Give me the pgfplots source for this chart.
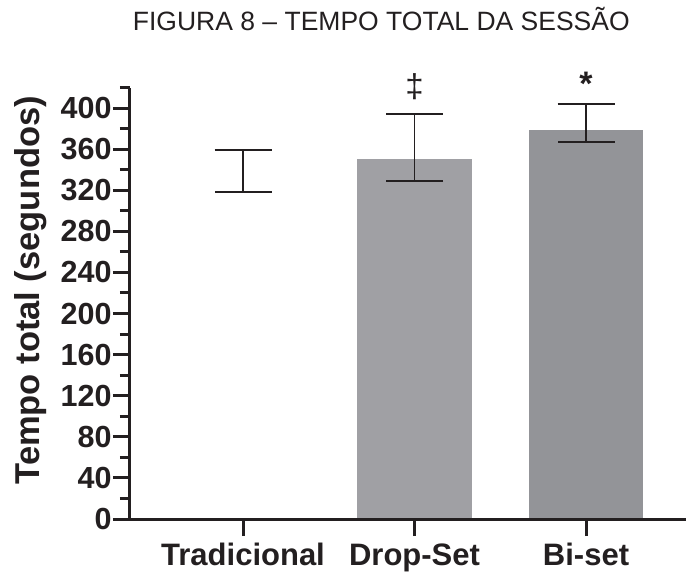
\documentclass[border=0pt]{standalone}
\usepackage{fontspec}
\setmainfont{Liberation Sans}
\usepackage{pgfplots}
\pgfplotsset{compat=1.18}
\definecolor{ink}{HTML}{231F20}
\definecolor{dropc}{HTML}{A0A0A4}
\definecolor{bic}{HTML}{939498}
\begin{document}
\begin{tikzpicture}
\path[use as bounding box] (-130bp,-57bp) rectangle (562bp,519bp);
\begin{axis}[
 at={(0,0)}, anchor=south west,
 scale only axis, width=556bp, height=431.5bp,
 xmin=-0.659, xmax=2.583, ymin=0, ymax=420,
 axis on top,
 axis x line*=bottom, axis y line*=left,
 axis line style={-, line width=3bp, color=ink},
 tick align=outside,
 major tick length=17bp, minor tick length=10bp,
 tick style={line width=3bp, color=ink},
 xtick={0,1,2}, xticklabels={Tradicional,Drop-Set,Bi-set},
 ytick={0,40,...,400}, minor ytick={20,60,...,420},
 /pgf/number format/assume math mode=true,
 yticklabel style={font=\bfseries\fontsize{30.5bp}{30.5bp}\selectfont, text=ink, xshift=2bp},
 xticklabel style={font=\bfseries\fontsize{31bp}{31bp}\selectfont, text=ink, yshift=-4bp},
 ylabel={Tempo total (segundos)},
 ylabel style={font=\bfseries\fontsize{34.5bp}{34.5bp}\selectfont, text=ink, at={(axis description cs:-0.178,0.53)}, anchor=center},
 clip=false,
 error bars/error bar style={line width=1.9bp, color=ink},
 error bars/error mark options={rotate=90, mark size=28.5bp, line width=1.9bp, color=ink},
]
\addplot[ybar, bar width=0.667, bar shift=0pt, fill=none, draw=none,
  error bars/.cd, y dir=both, y explicit]
  coordinates {(0,338.8) += (0,20.2) -= (0,20.2)};
\addplot[ybar, bar width=0.667, bar shift=0pt, fill=dropc, draw=none,
  error bars/.cd, y dir=both, y explicit]
  coordinates {(1,350.4) += (0,43.5) -= (0,21.5)};
\addplot[ybar, bar width=0.667, bar shift=0pt, fill=bic, draw=none,
  error bars/.cd, y dir=both, y explicit]
  coordinates {(2,378.6) += (0,25.0) -= (0,11.4)};
\node[font=\fontsize{33bp}{33bp}\selectfont, text=ink] at (axis cs:1,421) {‡};
\node[font=\bfseries\fontsize{34bp}{34bp}\selectfont, text=ink] at (axis cs:2,424) {*};
\node[anchor=base, font=\fontsize{26.5bp}{26.5bp}\selectfont, text=ink, yshift=57.5bp] at (rel axis cs:0.452,1) {FIGURA 8 – TEMPO TOTAL DA SESSÃO};
\end{axis}
\end{tikzpicture}
\end{document}
